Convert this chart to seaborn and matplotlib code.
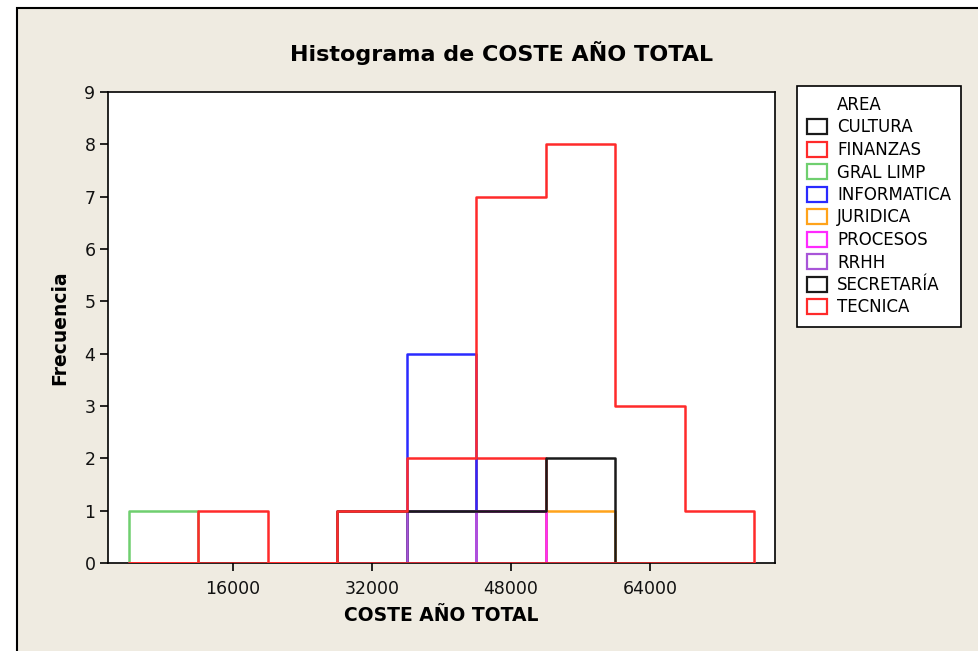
import numpy as np
import matplotlib
matplotlib.use("Agg")
import matplotlib.pyplot as plt
from matplotlib.patches import Patch, Rectangle
import seaborn as sns

# ---- Data ----
bin_edges = [4000, 12000, 20000, 28000, 36000, 44000, 52000, 60000, 68000, 76000]
bin_centers = [8000, 16000, 24000, 32000, 40000, 48000, 56000, 64000, 72000]

areas = ["CULTURA", "FINANZAS", "GRAL LIMP", "INFORMATICA", "JURIDICA",
         "PROCESOS", "RRHH", "SECRETARÍA", "TECNICA"]

cultura     = [0, 0, 0, 0, 1, 1, 0, 0, 0]
finanzas    = [0, 0, 0, 0, 0, 2, 0, 0, 0]
gral_limp   = [1, 0, 0, 0, 0, 0, 0, 0, 0]
informatica = [0, 0, 0, 0, 4, 0, 0, 0, 0]
juridica    = [0, 0, 0, 0, 0, 0, 1, 0, 0]
procesos    = [0, 0, 0, 0, 0, 1, 0, 0, 0]
rrhh        = [0, 0, 0, 0, 1, 0, 0, 0, 0]
secretaria  = [0, 0, 0, 1, 1, 1, 2, 0, 0]
tecnica     = [0, 1, 0, 1, 2, 7, 8, 3, 1]

counts = {
    "CULTURA": cultura, "FINANZAS": finanzas, "GRAL LIMP": gral_limp,
    "INFORMATICA": informatica, "JURIDICA": juridica, "PROCESOS": procesos,
    "RRHH": rrhh, "SECRETARÍA": secretaria, "TECNICA": tecnica,
}

colors = {
    "CULTURA": "#1a1a1a", "FINANZAS": "#ff2a2a", "GRAL LIMP": "#6fcf6f",
    "INFORMATICA": "#2a2aff", "JURIDICA": "#ffa31a", "PROCESOS": "#ff2aff",
    "RRHH": "#a855d8", "SECRETARÍA": "#1a1a1a", "TECNICA": "#ff2a2a",
}

# which outline ends up on top where they overlap
draw_order = ["FINANZAS", "GRAL LIMP", "INFORMATICA", "CULTURA", "JURIDICA",
              "PROCESOS", "RRHH", "SECRETARÍA", "TECNICA"]

bg = "#efebe1"

sns.set_style("ticks")
plt.rcParams["font.family"] = ["DejaVu Sans"]
plt.rcParams["text.color"] = "black"
plt.rcParams["axes.labelcolor"] = "black"

fig = plt.figure(figsize=(9.79, 6.51), dpi=100, facecolor="white")
fig.patches.append(Rectangle((17 / 979, -0.1), 1.2, 1.1 - 8 / 651,
                             transform=fig.transFigure, facecolor=bg,
                             edgecolor="black", linewidth=1.5, zorder=-10))

ax = fig.add_axes([108 / 979, 88 / 651, 667 / 979, 471 / 651])
ax.set_facecolor("white")

for z, name in enumerate(draw_order):
    sns.histplot(x=bin_centers, weights=counts[name], bins=bin_edges,
                 element="step", fill=True, color=colors[name], facecolor="none",
                 edgecolor=colors[name], linewidth=1.8, zorder=3 + z, ax=ax)

ax.set_xlim(1600, 78400)
ax.set_ylim(0, 9)
ax.set_xticks([16000, 32000, 48000, 64000])
ax.set_yticks(range(0, 10))
ax.tick_params(axis="both", labelsize=12.5, width=1.2, color="black",
               labelcolor="#111111")
ax.tick_params(axis="x", length=6, pad=6)
ax.tick_params(axis="y", length=6, pad=3)
for sp in ax.spines.values():
    sp.set_visible(True)
    sp.set_linewidth(1.2)
    sp.set_color("black")

ax.set_xlabel("COSTE AÑO TOTAL", fontsize=13.5, fontweight="bold", labelpad=6)
ax.set_ylabel("Frecuencia", fontsize=13.5, fontweight="bold", labelpad=11)

fig.text(502 / 979, 1 - 53 / 651, "Histograma de COSTE AÑO TOTAL",
         ha="center", va="center", fontsize=16, fontweight="bold")

# ---- Legend ----
handles = [Patch(visible=False)]
labels = ["AREA"]
for name in areas:
    handles.append(Patch(facecolor="white", edgecolor=colors[name], linewidth=1.6))
    labels.append(name)

leg = fig.legend(handles, labels, loc="upper left",
                 bbox_to_anchor=(797 / 979, 1 - 86 / 651),
                 fontsize=12, frameon=True, fancybox=False, framealpha=1,
                 handlelength=1.2, handleheight=1.0, handletextpad=0.6,
                 labelspacing=0.27, borderpad=0.6, borderaxespad=0)
leg.get_frame().set_edgecolor("black")
leg.get_frame().set_linewidth(1.2)
leg.get_frame().set_facecolor("white")

fig.savefig("out.png", dpi=100, facecolor=fig.get_facecolor())
